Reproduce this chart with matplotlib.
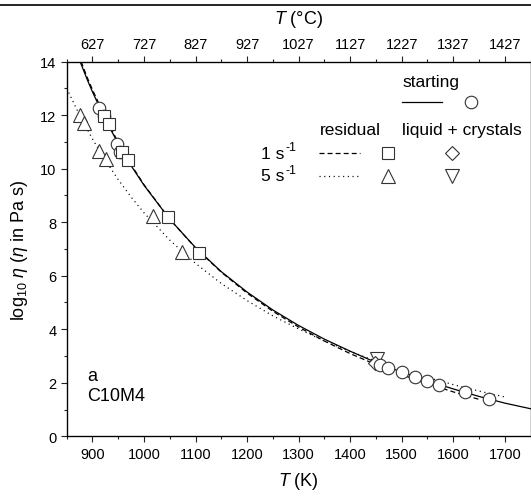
import matplotlib
matplotlib.use("Agg")
import matplotlib.pyplot as plt
from matplotlib.lines import Line2D
from matplotlib.ticker import MultipleLocator, FixedLocator

plt.rcParams["font.family"] = ["Liberation Sans", "DejaVu Sans"]
plt.rcParams["mathtext.fontset"] = "custom"
plt.rcParams["mathtext.rm"] = "Liberation Sans"
plt.rcParams["mathtext.it"] = "Liberation Sans:italic"
plt.rcParams["lines.scale_dashes"] = False

# starting material (circles)
start_T = [913, 922, 948, 953, 1458, 1474, 1500, 1526, 1550, 1572, 1623, 1670]
start_eta = [12.28, 11.95, 10.91, 10.63, 2.67, 2.55, 2.39, 2.20, 2.06, 1.93, 1.64, 1.39]

# residual liquid, 1 s-1 (squares) and 5 s-1 (triangles)
res1_T = [923, 933, 958, 968, 1046, 1107]
res1_eta = [11.97, 11.66, 10.63, 10.32, 8.18, 6.84]
res5_T = [875, 884, 913, 926, 1018, 1074]
res5_eta = [12.01, 11.70, 10.66, 10.35, 8.24, 6.89]

# liquid + crystals
lc1_T = [1448]
lc1_eta = [2.75]
lc5_T = [1453]
lc5_eta = [2.88]

# fitted curves
fit_start_T = [876, 890, 900, 925, 950, 975, 1000, 1050, 1100, 1150, 1200, 1250,
               1300, 1350, 1400, 1450, 1500, 1550, 1600, 1650, 1700, 1750]
fit_start_eta = [14.0, 13.32, 12.87, 11.84, 10.93, 10.11, 9.38, 8.11, 7.05, 6.15, 5.39, 4.72,
                 4.14, 3.63, 3.18, 2.76, 2.40, 2.07, 1.77, 1.49, 1.24, 1.03]
fit_res1_T = [878, 890, 900, 925, 950, 975, 1000, 1050, 1100, 1150, 1200, 1250,
              1300, 1350, 1400, 1450, 1500, 1550, 1600, 1650]
fit_res1_eta = [14.0, 13.40, 12.95, 11.91, 10.98, 10.15, 9.40, 8.11, 7.04, 6.13, 5.35, 4.67,
                4.08, 3.56, 3.09, 2.68, 2.30, 1.97, 1.66, 1.38]
fit_res5_T = [850, 875, 900, 925, 950, 975, 1000, 1050, 1100, 1150, 1200, 1250,
              1300, 1350, 1400, 1450, 1500, 1550, 1600, 1650, 1700]
fit_res5_eta = [13.00, 12.00, 11.11, 10.31, 9.59, 8.94, 8.35, 7.33, 6.46, 5.71, 5.07, 4.50,
                4.01, 3.56, 3.17, 2.81, 2.49, 2.20, 1.93, 1.69, 1.47]

top_ticks_K = [900, 1000, 1100, 1200, 1300, 1400, 1500, 1600, 1700]
top_labels_C = ["627", "727", "827", "927", "1027", "1127", "1227", "1327", "1427"]

edge = "#333333"
dash_style = (0, (3.6, 2.2))
dot_style = (0, (0.8, 2.6))

fig = plt.figure(figsize=(5.31, 5.02), dpi=100)
ax = fig.add_axes([0.1256, 0.1289, 0.8735, 0.7464])

ax.plot(fit_start_T, fit_start_eta, color="black", lw=0.9)
ax.plot(fit_res1_T, fit_res1_eta, color="black", lw=0.9, linestyle=dash_style)
ax.plot(fit_res5_T, fit_res5_eta, color="black", lw=0.9, linestyle=dot_style)

mk = dict(linestyle="none", markerfacecolor="white", markeredgecolor=edge, markeredgewidth=0.8)
ax.plot(res5_T, res5_eta, marker="^", markersize=9.5, **mk)
ax.plot(lc5_T, lc5_eta, marker="v", markersize=9.5, **mk)
ax.plot(lc1_T, lc1_eta, marker="D", markersize=7, **mk)
ax.plot(start_T, start_eta, marker="o", markersize=9, **mk)
ax.plot(res1_T, res1_eta, marker="s", markersize=8, **mk)

ax.set_xlim(850, 1750)
ax.set_ylim(0, 14)
ax.xaxis.set_major_locator(MultipleLocator(100))
ax.xaxis.set_minor_locator(MultipleLocator(50))
ax.yaxis.set_major_locator(MultipleLocator(2))
ax.yaxis.set_minor_locator(MultipleLocator(1))
ax.tick_params(which="both", direction="out", width=0.8, labelsize=10.5, color="#222222")
ax.tick_params(which="major", length=4)
ax.tick_params(which="minor", length=2.3)
for s in ax.spines.values():
    s.set_linewidth(0.9)
ax.set_xlabel("$T$ (K)", fontsize=13, labelpad=7)
ax.set_ylabel(r"log$_{10}$ $\eta$ ($\eta$ in Pa s)", fontsize=13, labelpad=7)

ax2 = ax.twiny()
ax2.set_xlim(ax.get_xlim())
ax2.xaxis.set_major_locator(FixedLocator(top_ticks_K))
ax2.set_xticklabels(top_labels_C)
ax2.xaxis.set_minor_locator(MultipleLocator(50))
ax2.tick_params(which="both", direction="out", width=0.8, labelsize=10.5, color="#222222")
ax2.tick_params(which="major", length=4)
ax2.tick_params(which="minor", length=2.3)
ax2.set_xlabel("$T$ (°C)", fontsize=13, labelpad=10)

# legend table
tr = ax.transAxes
fs = 12.5
ax.text(0.785, 0.948, "starting", transform=tr, fontsize=fs, ha="center", va="center")
ax.plot([0.723, 0.809], [0.893, 0.893], transform=tr, color="black", lw=0.9)
ax.plot([0.871], [0.893], transform=tr, marker="o", markersize=9, **mk)
ax.text(0.612, 0.820, "residual", transform=tr, fontsize=fs, ha="center", va="center")
ax.text(0.852, 0.820, "liquid + crystals", transform=tr, fontsize=fs, ha="center", va="center")

for label, y, style, sym in [("1 s", 0.756, dash_style, ("s", 8, "D", 7)),
                             ("5 s", 0.695, dot_style, ("^", 9.5, "v", 9.5))]:
    ax.text(0.470, y, label, transform=tr, fontsize=fs, ha="right", va="center")
    ax.text(0.472, y + 0.016, "-1", transform=tr, fontsize=9, ha="left", va="center")
    ax.plot([0.543, 0.632], [y, y], transform=tr, color="black", lw=0.9, linestyle=style)
    ax.plot([0.692], [y], transform=tr, marker=sym[0], markersize=sym[1], **mk)
    ax.plot([0.830], [y], transform=tr, marker=sym[2], markersize=sym[3], **mk)

ax.text(0.045, 0.135, "a\nC10M4", transform=tr, fontsize=13, ha="left", va="center",
        linespacing=1.25)

fig.add_artist(Line2D([0, 1], [1 - 6 / 502, 1 - 6 / 502], transform=fig.transFigure,
                      color="black", lw=1.2))

fig.savefig("out.png", dpi=100)
